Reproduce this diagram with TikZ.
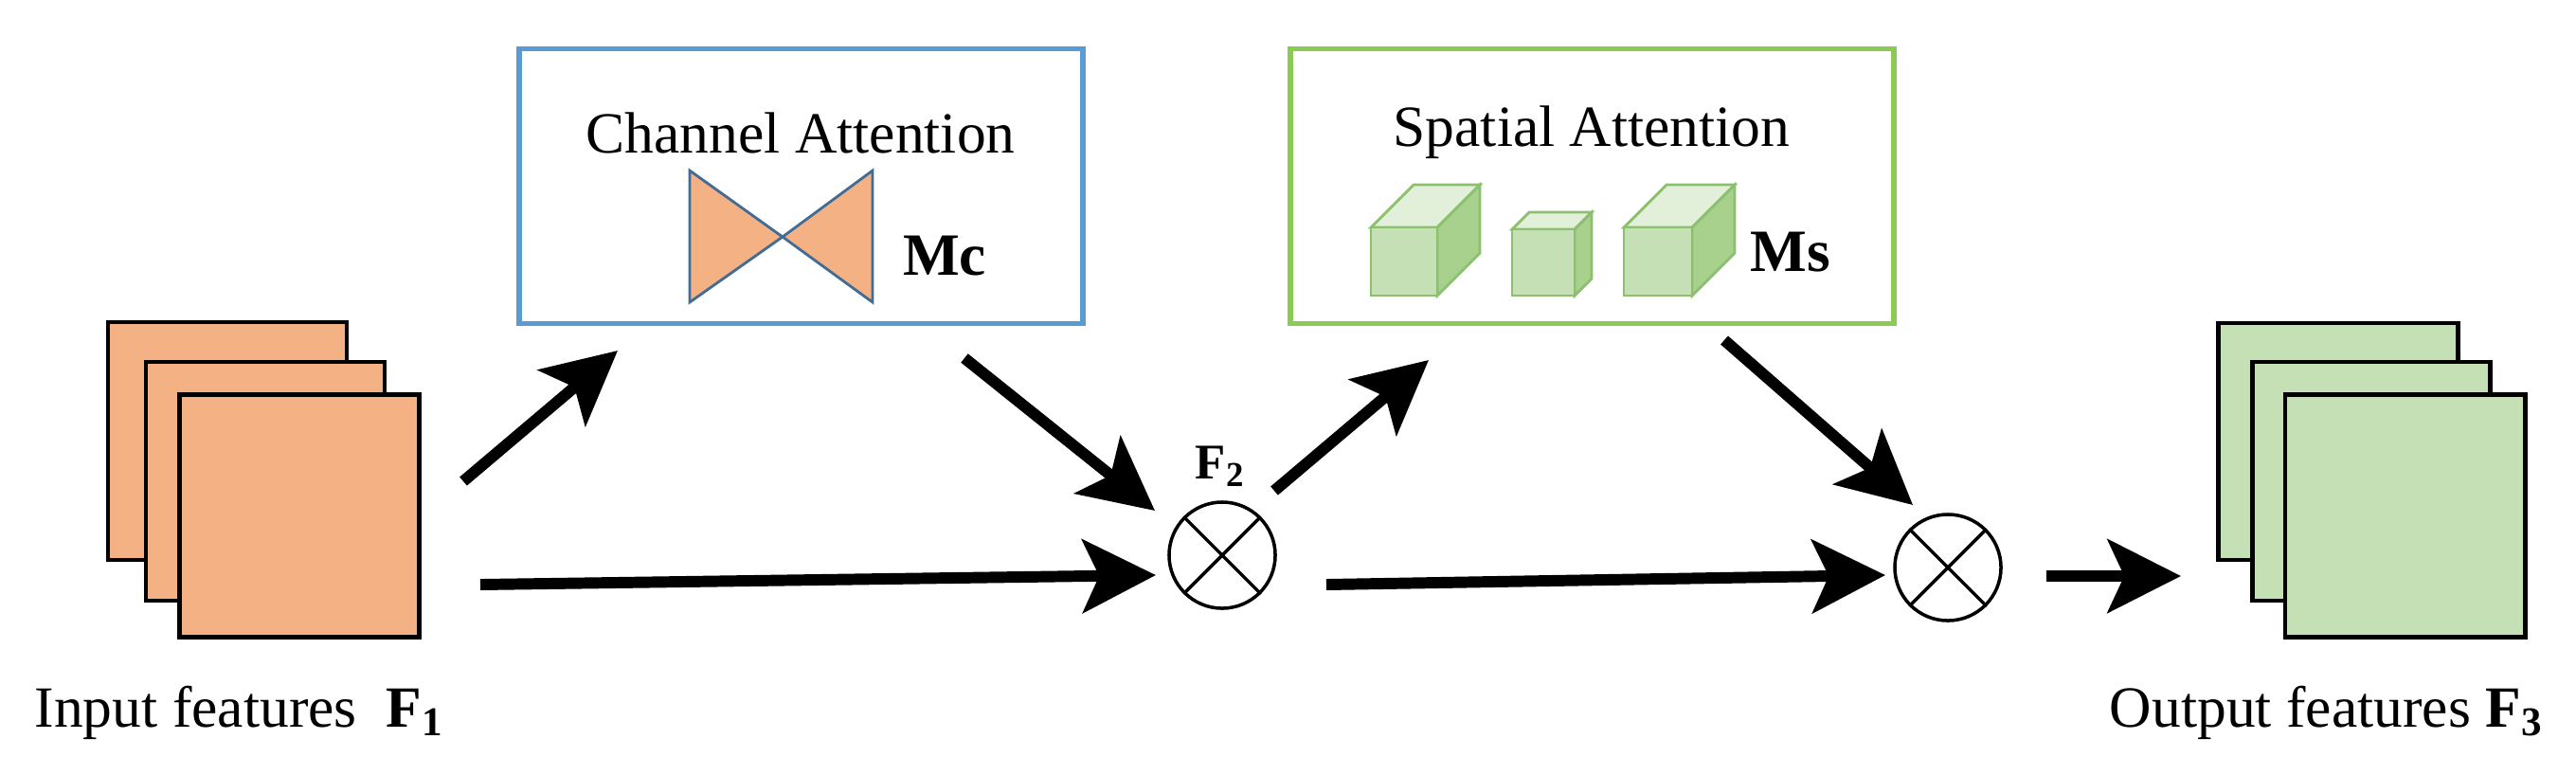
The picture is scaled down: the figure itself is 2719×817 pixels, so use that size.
\documentclass[tikz,border=0pt]{standalone}
\usepackage{fontspec}
\setmainfont{Liberation Serif}
\usetikzlibrary{arrows.meta}
\definecolor{org}{HTML}{F4B183}
\definecolor{grf}{HTML}{C5E0B4}
\definecolor{grt}{HTML}{E2F0D9}
\definecolor{grs}{HTML}{A9D18E}
\definecolor{gre}{HTML}{8CBF6E}
\definecolor{blb}{HTML}{5B9BD5}
\definecolor{grb}{HTML}{8BCB55}
\begin{document}
\begin{tikzpicture}[x=0.01cm,y=-0.01cm,
  fmap/.style={draw=black,line width=1.4pt},
  arr/.style={line width=3.4pt,-{Stealth[length=22pt,width=22pt,inset=5pt]}},
  op/.style={circle,draw=black,line width=1pt,minimum size=1.12cm,inner sep=0pt},
  txt/.style={font=\fontsize{17.5}{20}\selectfont,inner sep=0pt},
  btxt/.style={font=\fontsize{18}{20}\selectfont\bfseries,inner sep=0pt}]
\useasboundingbox (0,0) rectangle (2719,817);
% input maps
\fill[org] (114,340) rectangle (366,591); \draw[fmap] (114,340) rectangle (366,591);
\fill[org] (154,382) rectangle (406,634); \draw[fmap] (154,382) rectangle (406,634);
\node[fmap,fill=org,minimum width=2.52cm,minimum height=2.55cm,inner sep=0pt] (in) at (316,544.5) {};
\node[txt,anchor=west] (inl) at (36,752) {Input features\ \ \textbf{F\textsubscript{1}}};
% output maps
\fill[grf] (2341,341) rectangle (2594,591); \draw[fmap] (2341,341) rectangle (2594,591);
\fill[grf] (2377,382) rectangle (2628,634); \draw[fmap] (2377,382) rectangle (2628,634);
\node[fmap,fill=grf,minimum width=2.53cm,minimum height=2.55cm,inner sep=0pt] (out) at (2538.5,544.5) {};
\node[txt,anchor=east] (outl) at (2685,752) {Output features \textbf{F\textsubscript{3}}};
% channel attention
\node[draw=blb,line width=1.6pt,minimum width=5.95cm,minimum height=2.9cm,inner sep=0pt] (ca) at (845.5,196.5) {};
\node[txt] (cat) at (845,140) {Channel Attention};
\filldraw[fill=org,draw=blb!70!black,line width=0.8pt] (728,180) -- (728,319) -- (826,250) -- cycle;
\filldraw[fill=org,draw=blb!70!black,line width=0.8pt] (921,180) -- (921,319) -- (826,250) -- cycle;
\node[btxt] (mc) at (997,270) {Mc};
% spatial attention
\node[draw=grb,line width=1.6pt,minimum width=6.37cm,minimum height=2.9cm,inner sep=0pt] (sa) at (1680.5,196.5) {};
\node[txt] (sat) at (1680,140) {Spatial Attention};
\foreach \x/\w/\h/\d in {1447/70/72/45,1596/66/70/18,1714/72/72/45}{
  \begin{scope}[draw=gre,line width=0.8pt]
  \filldraw[fill=grt] (\x,312-\h) -- ++(\d,-\d) -- ++(\w,0) -- ++(-\d,\d) -- cycle;
  \filldraw[fill=grs] (\x+\w,312-\h) -- ++(\d,-\d) -- ++(0,\h) -- ++(-\d,\d) -- cycle;
  \filldraw[fill=grf] (\x,312-\h) rectangle ++(\w,\h);
  \end{scope}}
\node[btxt] (ms) at (1890,266) {Ms};
% operators
\node[op] (m1) at (1290,586) {};
\draw[line width=1pt] (m1.north east) -- (m1.south west) (m1.north west) -- (m1.south east);
\node[btxt,font=\fontsize{15}{17}\selectfont\bfseries] (f2) at (1288,492) {F\textsubscript{2}};
\node[op] (m2) at (2056,599) {};
\draw[line width=1pt] (m2.north east) -- (m2.south west) (m2.north west) -- (m2.south east);
% arrows
\coordinate (a1s) at (489,508); \coordinate (a1e) at (652,370);
\coordinate (a2s) at (1018,378); \coordinate (a2e) at (1219,539);
\coordinate (h1s) at (507,617); \coordinate (h1e) at (1220,607);
\coordinate (a3s) at (1345,518); \coordinate (a3e) at (1508,380);
\coordinate (a4s) at (1820,359); \coordinate (a4e) at (2019,533);
\coordinate (h2s) at (1400,617); \coordinate (h2e) at (1990,607);
\coordinate (h3s) at (2160,608); \coordinate (h3e) at (2302,608);
\draw[arr] (a1s) -- (a1e);
\draw[arr] (a2s) -- (a2e);
\draw[arr] (h1s) -- (h1e);
\draw[arr] (a3s) -- (a3e);
\draw[arr] (a4s) -- (a4e);
\draw[arr] (h2s) -- (h2e);
\draw[arr] (h3s) -- (h3e);
\end{tikzpicture}
\end{document}
